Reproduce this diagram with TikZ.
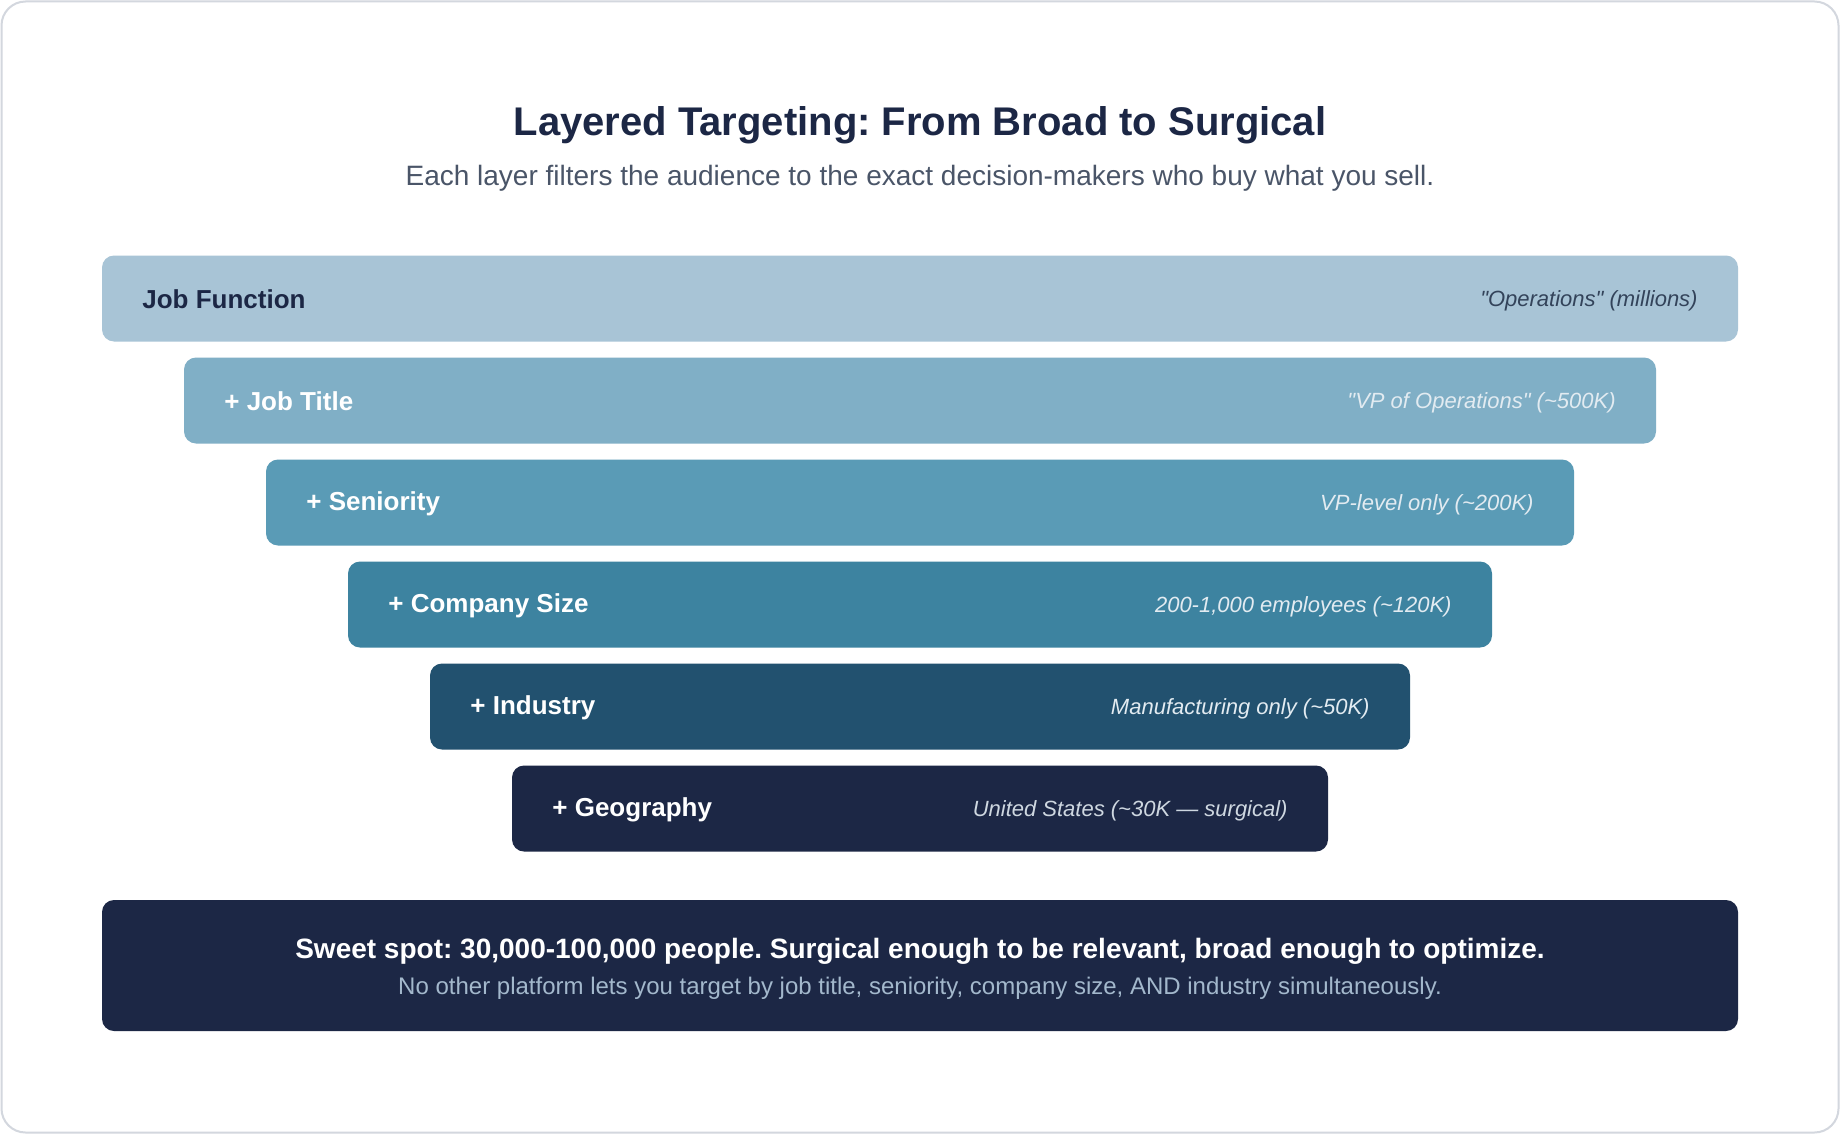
\documentclass[tikz,border=0pt]{standalone}
\usepackage{fontspec}
\setmainfont{Liberation Sans}[Ligatures=TeXOff]
\frenchspacing
\definecolor{navy}{HTML}{1C2745}
\definecolor{subgray}{HTML}{4A5568}
\definecolor{cA}{HTML}{A8C4D6}
\definecolor{cB}{HTML}{80AFC6}
\definecolor{cC}{HTML}{5A9BB6}
\definecolor{cD}{HTML}{3D83A0}
\definecolor{cE}{HTML}{22516F}
\definecolor{cF}{HTML}{1C2745}
\definecolor{slate}{HTML}{33435A}
\definecolor{lightnote}{HTML}{E2EBF1}
\definecolor{footsub}{HTML}{A3B8CC}
\definecolor{framegray}{HTML}{D3D7DE}
\begin{document}
\begin{tikzpicture}[x=0.5pt,y=-0.5pt,
  bar/.style={rectangle, rounded corners=6pt, inner sep=0pt, outer sep=0pt, minimum height=43pt, draw=none},
  barlabel/.style={anchor=west, inner sep=0pt, text=white, font=\fontsize{13pt}{15pt}\selectfont\bfseries},
  barnote/.style={anchor=east, inner sep=0pt, text=lightnote, font=\fontsize{11pt}{13pt}\selectfont\itshape},
]
\useasboundingbox (0,0) rectangle (1840,1134);
\fill[white] (0,0) rectangle (1840,1134);
\draw[framegray, line width=1pt, fill=white, rounded corners=12pt] (1.5,1.5) rectangle (1838.5,1132.5);

\node[inner sep=0pt, text=navy, font=\fontsize{20pt}{24pt}\selectfont\bfseries] (title) at (920,125.5) {Layered Targeting: From Broad to Surgical};
\node[inner sep=0pt, text=subgray, font=\fontsize{14pt}{17pt}\selectfont] (subtitle) at (920,178.5) {Each layer filters the audience to the exact decision-makers who buy what you sell.};

\node[bar, fill=cA, minimum width=818pt] (b1) at (920,298.5) {};
\node[bar, fill=cB, minimum width=736pt] (b2) at (920,400.5) {};
\node[bar, fill=cC, minimum width=654pt] (b3) at (920,502.5) {};
\node[bar, fill=cD, minimum width=572pt] (b4) at (920,604.5) {};
\node[bar, fill=cE, minimum width=490pt] (b5) at (920,706.5) {};
\node[bar, fill=cF, minimum width=408pt] (b6) at (920,808.5) {};

\node[barlabel, text=navy] (l1) at ([xshift=20pt,yshift=-0.6pt]b1.west) {Job Function};
\node[barnote, text=slate] (n1) at ([xshift=-20pt,yshift=-1pt]b1.east) {"Operations" (millions)};
\node[barlabel] (l2) at ([xshift=20pt,yshift=-0.6pt]b2.west) {+ Job Title};
\node[barnote] (n2) at ([xshift=-20pt,yshift=-1pt]b2.east) {"VP of Operations" (\textasciitilde500K)};
\node[barlabel] (l3) at ([xshift=20pt,yshift=-0.6pt]b3.west) {+ Seniority};
\node[barnote] (n3) at ([xshift=-20pt,yshift=-1pt]b3.east) {VP-level only (\textasciitilde200K)};
\node[barlabel] (l4) at ([xshift=20pt,yshift=-0.6pt]b4.west) {+ Company Size};
\node[barnote] (n4) at ([xshift=-20pt,yshift=-1pt]b4.east) {200-1,000 employees (\textasciitilde120K)};
\node[barlabel] (l5) at ([xshift=20pt,yshift=-0.6pt]b5.west) {+ Industry};
\node[barnote] (n5) at ([xshift=-20pt,yshift=-1pt]b5.east) {Manufacturing only (\textasciitilde50K)};
\node[barlabel] (l6) at ([xshift=20pt,yshift=-0.6pt]b6.west) {+ Geography};
\node[barnote, text=lightnote!90!cF] (n6) at ([xshift=-20pt,yshift=-1pt]b6.east) {United States (\textasciitilde30K — surgical)};

\node[bar, fill=navy, minimum width=818pt, minimum height=65.5pt] (foot) at (920,965.5) {};
\node[inner sep=0pt, text=white, font=\fontsize{14pt}{16pt}\selectfont\bfseries] (foothead) at (920,951.5) {Sweet spot: 30,000-100,000 people. Surgical enough to be relevant, broad enough to optimize.};
\node[inner sep=0pt, text=footsub, font=\fontsize{12pt}{14pt}\selectfont] (footsub) at (920,988.5) {No other platform lets you target by job title, seniority, company size, AND industry simultaneously.};
\end{tikzpicture}
\end{document}
